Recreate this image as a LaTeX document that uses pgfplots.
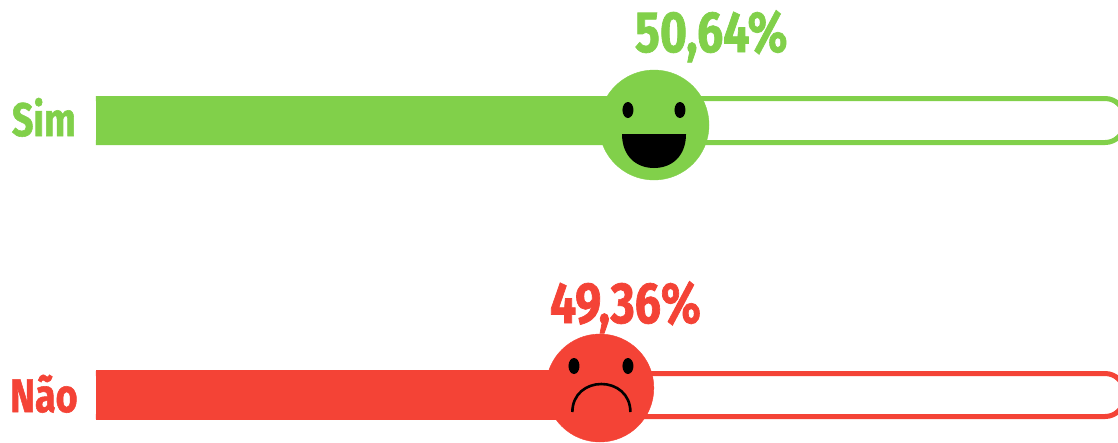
\documentclass[border=0pt]{standalone}
\usepackage{pgfplots}
\pgfplotsset{compat=1.18}
\usepackage{fontspec}
\setmainfont[FakeStretch=0.8,BoldFeatures={FakeBold=1.2}]{Fira Sans}
\definecolor{yes}{HTML}{81D04A}
\definecolor{no}{HTML}{F44336}
\pgfdeclareplotmark{eye}{\pgfpathellipse{\pgfpointorigin}{\pgfpoint{5.5pt}{0pt}}{\pgfpoint{0pt}{8pt}}\pgfusepathqfill}
\pgfdeclareplotmark{smile}{%
  \pgfpathmoveto{\pgfpoint{-32pt}{17pt}}%
  \pgfpathlineto{\pgfpoint{32pt}{17pt}}%
  \pgfpathcurveto{\pgfpoint{32pt}{-5pt}}{\pgfpoint{18pt}{-17pt}}{\pgfpoint{0pt}{-17pt}}%
  \pgfpathcurveto{\pgfpoint{-18pt}{-17pt}}{\pgfpoint{-32pt}{-5pt}}{\pgfpoint{-32pt}{17pt}}%
  \pgfpathclose\pgfusepathqfill}
\pgfdeclareplotmark{frown}{%
  \pgfsetlinewidth{2.6pt}%
  \pgfpathmoveto{\pgfpoint{-29pt}{-14pt}}%
  \pgfpathcurveto{\pgfpoint{-29pt}{4pt}}{\pgfpoint{-15pt}{14pt}}{\pgfpoint{0pt}{14pt}}%
  \pgfpathcurveto{\pgfpoint{15pt}{14pt}}{\pgfpoint{29pt}{4pt}}{\pgfpoint{29pt}{-14pt}}%
  \pgfusepathqstroke}
\begin{document}
\begin{tikzpicture}
\begin{axis}[
  scale only axis, width=1118pt, height=442pt,
  xmin=-9.393, xmax=100, ymin=0, ymax=442, y dir=reverse,
  hide axis, clip marker paths=true, bar shift=0pt
]
% empty tracks
\addplot[yes, line width=5pt, rounded corners=19pt, no marks] coordinates {(0,98.5)(100.6,98.5)(100.6,142.5)(0,142.5)};
\addplot[no, line width=5pt, rounded corners=19pt, no marks] coordinates {(0,373.5)(100.6,373.5)(100.6,416.5)(0,416.5)};
% filled bars
\addplot[xbar, bar width=49pt, fill=yes, draw=none] coordinates {(50.64,120.5)};
\addplot[xbar, bar width=50pt, fill=no, draw=none] coordinates {(49.36,395)};
% faces
\addplot[only marks, mark=*, mark size=55pt, color=yes, mark options={fill=yes, draw=yes}] coordinates {(54.6,125)};
\addplot[only marks, mark=*, mark size=54pt, color=no, mark options={fill=no, draw=no}] coordinates {(49.3,388)};
\addplot[only marks, mark=eye, black] coordinates {(52.05,110)(57.14,110)(46.77,366)(52.05,366)};
\addplot[only marks, mark=smile, black] coordinates {(54.6,151)};
\addplot[only marks, mark=frown, black] coordinates {(49.45,398)};
% labels
\node[yes, anchor=base, font=\bfseries\fontsize{47}{47}\selectfont, inner sep=0pt] at (axis cs:-5.1,136) {Sim};
\node[no, anchor=base, font=\bfseries\fontsize{47}{47}\selectfont, inner sep=0pt] at (axis cs:-5.1,412) {Não};
\node[yes, anchor=base, font=\bfseries\fontsize{58}{58}\selectfont, inner sep=0pt] at (axis cs:60.2,52) {50,64\%};
\node[no, anchor=base, font=\bfseries\fontsize{58}{58}\selectfont, inner sep=0pt] at (axis cs:51.8,323) {49,36\%};
\end{axis}
\pgfresetboundingbox
\useasboundingbox (0,0) rectangle (1118pt,442pt);
\end{tikzpicture}
\end{document}
